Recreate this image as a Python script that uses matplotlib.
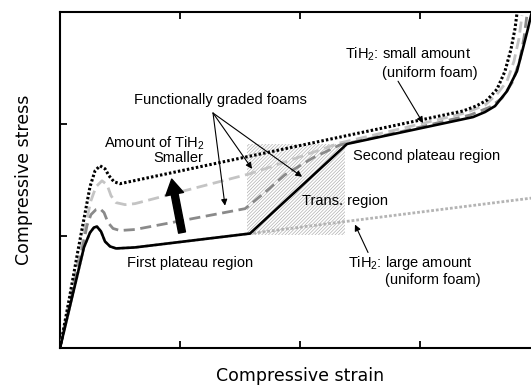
import matplotlib
matplotlib.use('Agg')
import matplotlib.pyplot as plt
from matplotlib.patches import Rectangle

plt.rcParams['font.family'] = ['Liberation Sans', 'DejaVu Sans']
plt.rcParams['mathtext.default'] = 'regular'
plt.rcParams['hatch.linewidth'] = 0.5

# graded foam, lowest first plateau (black solid)
black_x = [0, 0.20, 0.25, 0.283, 0.308, 0.342, 0.375, 0.417, 0.467, 0.625, 1.583, 2.392,
           3.25, 3.442, 3.542, 3.625, 3.725, 3.808, 3.858, 3.90, 3.933]
black_y = [0, 0.90, 1.03, 1.076, 1.084, 1.04, 0.951, 0.907, 0.889, 0.898, 1.022, 1.822,
           2.018, 2.062, 2.107, 2.16, 2.293, 2.471, 2.676, 2.853, 3.004]

# graded foam, middle (dark grey dashed)
dark_x = [0, 0.183, 0.225, 0.258, 0.30, 0.333, 0.367, 0.40, 0.442, 0.50, 0.625, 1.542, 1.625,
          1.733, 1.875, 2.108, 2.333, 2.833, 3.417, 3.583, 3.683, 3.775, 3.833, 3.867, 3.892]
dark_y = [0, 0.871, 1.093, 1.191, 1.236, 1.244, 1.209, 1.12, 1.067, 1.049, 1.058, 1.244, 1.316,
          1.413, 1.547, 1.698, 1.813, 1.929, 2.08, 2.151, 2.231, 2.382, 2.578, 2.773, 2.978]

# graded foam, highest first plateau (light grey dashed)
light_x = [0, 0.167, 0.217, 0.258, 0.30, 0.35, 0.392, 0.425, 0.467, 0.542, 0.625, 1.583, 1.708,
           1.975, 2.167, 2.333, 2.833, 3.375, 3.542, 3.642, 3.725, 3.783, 3.825, 3.85]
light_y = [0, 0.871, 1.12, 1.316, 1.44, 1.493, 1.458, 1.36, 1.298, 1.28, 1.289, 1.556, 1.60,
           1.698, 1.769, 1.831, 1.956, 2.098, 2.169, 2.267, 2.382, 2.56, 2.764, 2.969]

# uniform foam, small TiH2 amount (black dotted)
small_x = [0, 0.075, 0.15, 0.208, 0.25, 0.292, 0.333, 0.375, 0.408, 0.45, 0.50,
           3.358, 3.467, 3.558, 3.642, 3.708, 3.758, 3.792, 3.808]
small_y = [0, 0.427, 0.871, 1.20, 1.44, 1.582, 1.627, 1.60, 1.538, 1.484, 1.467,
           2.116, 2.16, 2.213, 2.311, 2.471, 2.667, 2.853, 2.987]

# uniform foam, large TiH2 amount (grey dotted)
large_x = [0, 0.20, 0.25, 0.283, 0.308, 0.342, 0.375, 0.417, 0.467, 0.625, 1.583, 3.94]
large_y = [0, 0.90, 1.03, 1.076, 1.084, 1.04, 0.951, 0.907, 0.889, 0.898, 1.022, 1.34]

# transition region box
trans_x = [1.558, 2.375]
trans_y = [1.01, 1.82]

fig = plt.figure(figsize=(5.31, 3.87), dpi=100)
ax = fig.add_axes([60 / 531, 39 / 387, 480 / 531, 336 / 387])

ax.add_patch(Rectangle((trans_x[0], trans_y[0]), trans_x[1] - trans_x[0], trans_y[1] - trans_y[0],
                       facecolor='white', edgecolor='#b0b0b0', lw=0, hatch='//////////', zorder=1))

ax.plot(large_x, large_y, color='#b4b4b4', lw=2.0, ls=(0, (1, 0.7)), zorder=2)
ax.plot(light_x, light_y, color='#c4c4c4', lw=2.0, ls=(0, (4, 2)), zorder=3)
ax.plot(dark_x, dark_y, color='#8a8a8a', lw=2.0, ls=(0, (4, 2)), zorder=4)
ax.plot(black_x, black_y, color='black', lw=1.9, zorder=5)
ax.plot(small_x, small_y, color='black', lw=2.2, ls=(0, (0.8, 0.7)), zorder=6)

fs = 10.5
ax.text(1.333, 2.213, 'Functionally graded foams', fontsize=fs, ha='center', va='center')
for tip in [(1.375, 1.271), (1.60, 1.60), (2.017, 1.529)]:
    ax.annotate('', xy=tip, xytext=(1.275, 2.098),
                arrowprops=dict(arrowstyle='-|>', lw=0.8, color='black', mutation_scale=9,
                                shrinkA=0, shrinkB=0), zorder=7)

ax.text(0.79, 1.83, 'Amount of TiH$_2$', fontsize=fs, ha='center', va='center')
ax.text(0.983, 1.698, 'Smaller', fontsize=fs, ha='center', va='center')
ax.annotate('', xy=(0.931, 1.508), xytext=(1.017, 1.031),
            arrowprops=dict(width=5, headwidth=13, headlength=11, color='black'), zorder=7)

ax.text(1.083, 0.756, 'First plateau region', fontsize=fs, ha='center', va='center')
ax.text(2.017, 1.316, 'Trans. region', fontsize=fs, ha='left', va='center')
ax.text(2.442, 1.716, 'Second plateau region', fontsize=fs, ha='left', va='center')

ax.text(2.375, 2.622, 'TiH$_2$: small amount', fontsize=fs, ha='left', va='center')
ax.text(2.683, 2.453, '(uniform foam)', fontsize=fs, ha='left', va='center')
ax.annotate('', xy=(3.025, 2.009), xytext=(2.817, 2.382),
            arrowprops=dict(arrowstyle='-|>', lw=0.8, color='black', mutation_scale=9,
                            shrinkA=0, shrinkB=0), zorder=7)

ax.text(2.40, 0.756, 'TiH$_2$: large amount', fontsize=fs, ha='left', va='center')
ax.text(2.708, 0.604, '(uniform foam)', fontsize=fs, ha='left', va='center')
ax.annotate('', xy=(2.458, 1.102), xytext=(2.567, 0.853),
            arrowprops=dict(arrowstyle='-|>', lw=0.8, color='black', mutation_scale=9,
                            shrinkA=0, shrinkB=0), zorder=7)

ax.set_xlim(0, 4)
ax.set_ylim(0, 3)
ax.set_xticks([1, 2, 3])
ax.set_yticks([1, 2])
ax.tick_params(direction='in', length=5, width=1.3, top=True, right=True,
               labelbottom=False, labelleft=False)
for s in ax.spines.values():
    s.set_linewidth(1.5)

fig.text(300 / 531, 1 - 376 / 387, 'Compressive strain', fontsize=12.5, family='DejaVu Sans',
         ha='center', va='center')
fig.text(24 / 531, 1 - 180 / 387, 'Compressive stress', fontsize=12.5, family='DejaVu Sans',
         ha='center', va='center', rotation=90)

fig.savefig('out.png', dpi=100)
